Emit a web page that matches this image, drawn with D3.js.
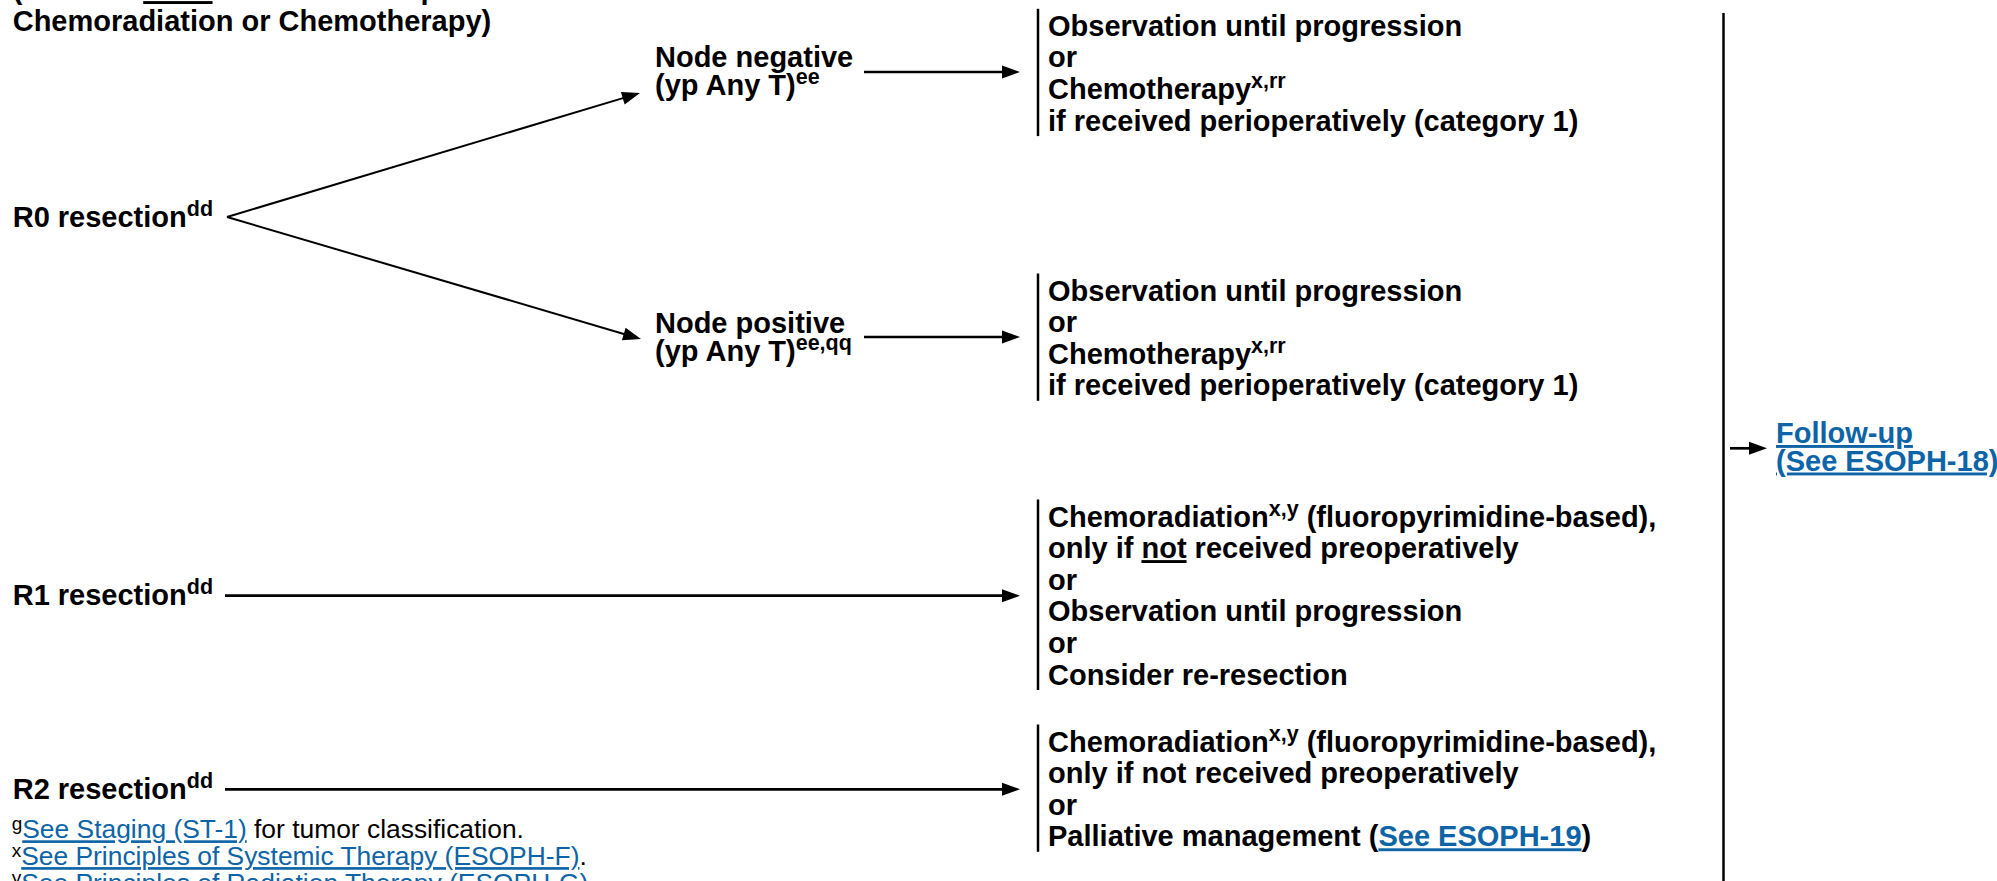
<!DOCTYPE html>
<html>
<head>
<meta charset="utf-8">
<script src="https://cdn.jsdelivr.net/npm/d3@7"></script>
<style>
html, body { margin: 0; padding: 0; background: #fff; overflow: hidden; }
svg { display: block; }
text { font-family: "Liberation Sans", Arial, Helvetica, sans-serif; white-space: pre; }
</style>
</head>
<body>
<svg id="chart" width="1997" height="881"></svg>
<script>
// ---- content ----
const headerLines = [
    [{ t: "(Patients " }, { t: "Have", u: true }, { t: " Received Preoperative" }],
    [{ t: "Chemoradiation or Chemotherapy)" }]
];
const resections = ["R0 resection", "R1 resection", "R2 resection"];
const resectionSup = "dd";
const nodeNames = ["Node negative", "Node positive"];
const nodeSubs = ["(yp Any T)", "(yp Any T)"];
const nodeSups = ["ee", "ee,qq"];
const obsBox = [
    [{ t: "Observation until progression" }],
    [{ t: "or" }],
    [{ t: "Chemotherapy" }, { t: "x,rr", sup: true }],
    [{ t: "if received perioperatively (category 1)" }]
];
const r1Box = [
    [{ t: "Chemoradiation" }, { t: "x,y", sup: true }, { t: " (fluoropyrimidine-based)," }],
    [{ t: "only if " }, { t: "not", u: true }, { t: " received preoperatively" }],
    [{ t: "or" }],
    [{ t: "Observation until progression" }],
    [{ t: "or" }],
    [{ t: "Consider re-resection" }]
];
const r2Box = [
    [{ t: "Chemoradiation" }, { t: "x,y", sup: true }, { t: " (fluoropyrimidine-based)," }],
    [{ t: "only if not received preoperatively" }],
    [{ t: "or" }],
    [{ t: "Palliative management (" }, { t: "See ESOPH-19", link: true }, { t: ")" }]
];
const boxes = [obsBox, obsBox, r1Box, r2Box];
const followUp = ["Follow-up", "(See ESOPH-18)"];
const footnotes = [
    [{ t: "g", sup: true }, { t: "See Staging (ST-1)", link: true }, { t: " for tumor classification." }],
    [{ t: "x", sup: true }, { t: "See Principles of Systemic Therapy (ESOPH-F)", link: true }, { t: "." }],
    [{ t: "y", sup: true }, { t: "See Principles of Radiation Therapy (ESOPH-G)", link: true }, { t: "." }]
];

// ---- layout ----
const BLUE = "#0d64a6";
const FS = 29, LH = 31.6, LH2 = 28, SUP_FS = 21.5, SUP_DY = -11;
const FOOT_FS = 26.4, FOOT_LH = 26.8, FOOT_SUP_FS = 19, FOOT_SUP_DY = -8;

const xLeft = 12.7, xNode = 655, xBar = 1038, xBoxText = 1048;
const xFollowLine = 1723.5, xFollowText = 1776;
const arrowTipX = 1020;

const boxTop = [35.8, 300.5, 526.5, 751.5];     // first baseline of each box
const branchY = [72, 337, 595.7, 789.3];        // arrow height into each box
const resectionY = [227, 605, 799];              // label baselines
const nodeY = [66.5, 333];
const forkFrom = [227, 217];
const forkTips = [[640, 93], [641, 339]];

const svg = d3.select("#chart");
const g = svg.append("g");

function richLine(parent, segs, x, y, o) {
    const t = parent.append("text")
        .attr("x", x).attr("y", y)
        .attr("font-size", o.fs)
        .attr("font-weight", o.bold ? "bold" : "normal")
        .attr("fill", o.color || "#000");
    let raised = false;
    segs.forEach(s => {
        const ts = t.append("tspan").text(s.t);
        if (s.sup) {
            ts.attr("font-size", o.supFs);
            if (!raised) { ts.attr("dy", o.supDy); raised = true; }
        } else if (raised) {
            ts.attr("dy", -o.supDy); raised = false;
        }
        if (s.link) ts.attr("fill", BLUE);
        if (s.u || s.link) ts.style("text-decoration", "underline");
    });
    return t;
}

function arrow(x1, y1, x2, y2, w) {
    const a = Math.atan2(y2 - y1, x2 - x1);
    const L = 18, H = 6.5;
    g.append("line")
        .attr("x1", x1).attr("y1", y1)
        .attr("x2", x2 - Math.cos(a) * 10).attr("y2", y2 - Math.sin(a) * 10)
        .attr("stroke", "#000").attr("stroke-width", w);
    const bx = x2 - Math.cos(a) * L, by = y2 - Math.sin(a) * L;
    const pts = [
        [x2, y2],
        [bx - Math.sin(a) * H, by + Math.cos(a) * H],
        [bx + Math.sin(a) * H, by - Math.cos(a) * H]
    ];
    g.append("path").attr("d", d3.line()(pts) + "Z").attr("fill", "#000");
}

const bold = { fs: FS, bold: true, supFs: SUP_FS, supDy: SUP_DY };

// header (top line runs off the page, as in the source)
headerLines.forEach((segs, i) => richLine(g, segs, xLeft, 30.7 - LH + i * LH, bold));

// resection labels
resections.forEach((r, i) => {
    richLine(g, [{ t: r }, { t: resectionSup, sup: true }], xLeft, resectionY[i], bold);
});

// R0 fork to node labels
forkTips.forEach(tip => arrow(forkFrom[0], forkFrom[1], tip[0], tip[1], 2));

nodeNames.forEach((n, i) => {
    richLine(g, [{ t: n }], xNode, nodeY[i], bold);
    richLine(g, [{ t: nodeSubs[i] }, { t: nodeSups[i], sup: true }], xNode, nodeY[i] + LH2, bold);
    arrow(864, branchY[i], arrowTipX, branchY[i], 2.7);
});

// R1 / R2 straight arrows
[1, 2].forEach(i => arrow(225, branchY[i + 1], arrowTipX, branchY[i + 1], 2.7));

// option boxes
boxes.forEach((lines, b) => {
    const y0 = boxTop[b];
    const yLast = y0 + (lines.length - 1) * LH;
    g.append("line")
        .attr("x1", xBar).attr("x2", xBar)
        .attr("y1", y0 - 27).attr("y2", yLast + 5.5)
        .attr("stroke", "#000").attr("stroke-width", 2.5);
    lines.forEach((segs, i) => richLine(g, segs, xBoxText, y0 + i * LH, bold));
});

// follow-up column
g.append("line")
    .attr("x1", xFollowLine).attr("x2", xFollowLine)
    .attr("y1", 13).attr("y2", 881)
    .attr("stroke", "#000").attr("stroke-width", 2.5);
arrow(1730, 448.3, 1767, 448.3, 2.7);
followUp.forEach((f, i) => {
    richLine(g, [{ t: f, link: true }], xFollowText, 443 + i * 27.5, bold);
});

// footnotes
const foot = { fs: FOOT_FS, bold: false, supFs: FOOT_SUP_FS, supDy: FOOT_SUP_DY };
footnotes.forEach((segs, i) => richLine(g, segs, 11.7, 838.3 + i * FOOT_LH, foot));
</script>
</body>
</html>
